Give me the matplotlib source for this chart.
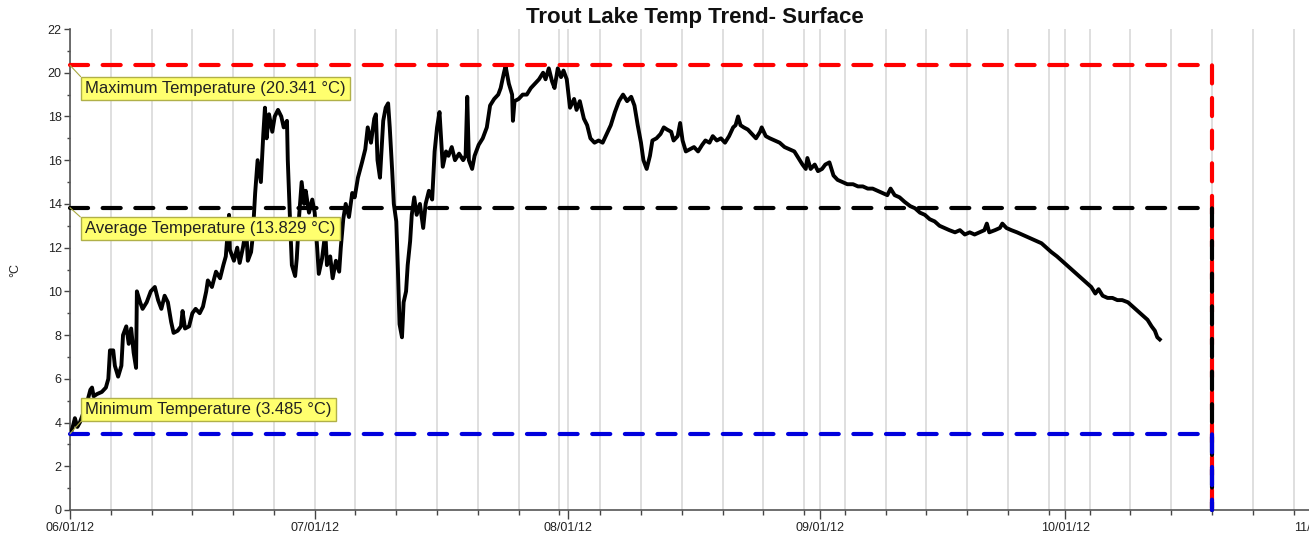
import pandas as pd
import matplotlib
matplotlib.use('Agg')
import matplotlib.pyplot as plt
import matplotlib.dates as mdates
from matplotlib.ticker import FixedLocator, MultipleLocator

plt.rcParams['font.family'] = ['Liberation Sans', 'DejaVu Sans']
plt.rcParams['lines.scale_dashes'] = False

start = pd.Timestamp('2012-06-01')
end = pd.Timestamp('2012-11-01')

# logger readings: days since 06/01/12 and surface temperature in °C
days = [
    0.1, 0.4, 0.6, 0.9, 1.2, 2.0, 2.5, 2.7, 2.9, 3.3,
    3.9, 4.4, 4.7, 4.9, 5.3, 5.5, 5.9, 6.3, 6.5, 6.9,
    7.2, 7.5, 7.8, 8.1, 8.2, 8.6, 8.9, 9.4, 9.9, 10.4,
    10.8, 11.2, 11.6, 12.0, 12.4, 12.7, 13.2, 13.6, 13.8, 14.1,
    14.6, 15.0, 15.4, 15.9, 16.3, 16.7, 16.9, 17.4, 17.9, 18.4,
    18.8, 19.1, 19.5, 19.6, 20.1, 20.5, 20.8, 21.2, 21.6, 21.8,
    22.2, 22.4, 22.7, 23.0, 23.4, 23.7, 23.9, 24.1, 24.4, 24.8,
    25.1, 25.5, 25.9, 26.2, 26.6, 26.7, 27.0, 27.2, 27.6, 27.8,
    28.1, 28.4, 28.7, 28.9, 29.3, 29.7, 30.0, 30.3, 30.5, 30.9,
    31.3, 31.5, 31.9, 32.2, 32.6, 33.0, 33.2, 33.5, 33.8, 34.2,
    34.6, 34.9, 35.3, 35.8, 36.2, 36.5, 36.9, 37.3, 37.5, 37.7,
    38.0, 38.4, 38.7, 39.0, 39.2, 39.5, 39.7, 40.0, 40.2, 40.4,
    40.7, 40.9, 41.2, 41.4, 41.7, 41.9, 42.2, 42.5, 42.9, 43.3,
    43.6, 44.0, 44.4, 44.7, 45.0, 45.3, 45.7, 46.1, 46.4, 46.8,
    47.2, 47.7, 48.2, 48.5, 48.7, 48.9, 49.3, 49.6, 50.1, 50.6,
    51.1, 51.5, 52.0, 52.5, 52.8, 53.2, 53.4, 53.8, 54.2, 54.3,
    54.5, 55.0, 55.5, 56.0, 56.5, 57.0, 57.5, 58.0, 58.3, 58.7,
    59.1, 59.4, 59.8, 60.2, 60.5, 60.9, 61.3, 61.8, 62.1, 62.5,
    63.0, 63.4, 63.8, 64.3, 64.8, 65.3, 65.8, 66.3, 66.8, 67.3,
    67.8, 68.3, 68.8, 69.2, 69.6, 70.0, 70.3, 70.7, 71.1, 71.4,
    71.9, 72.4, 72.8, 73.2, 73.7, 74.0, 74.5, 74.8, 75.1, 75.5,
    76.0, 76.5, 77.0, 77.5, 77.9, 78.4, 78.8, 79.3, 79.8, 80.3,
    80.8, 81.3, 81.6, 81.9, 82.2, 82.6, 83.1, 83.6, 84.1, 84.6,
    84.8, 85.3, 85.8, 86.4, 87.0, 87.6, 88.2, 88.8, 89.3, 89.8,
    90.2, 90.4, 90.8, 91.3, 91.7, 92.2, 92.6, 93.1, 93.6, 94.1,
    94.7, 95.3, 96.0, 96.6, 97.2, 97.8, 98.4, 99.0, 99.6, 100.2,
    100.6, 101.1, 101.7, 102.3, 103.0, 103.6, 104.2, 104.8, 105.4, 106.0,
    106.6, 107.2, 107.8, 108.5, 109.1, 109.7, 110.3, 110.9, 111.5, 112.1,
    112.4, 112.7, 113.4, 114.0, 114.3, 114.8, 115.4, 116.1, 116.7, 117.3,
    117.9, 118.5, 119.1, 119.7, 120.3, 121.0, 121.6, 122.2, 122.8, 123.4,
    124.0, 124.6, 125.2, 125.7, 126.1, 126.6, 127.2, 127.8, 128.4, 129.0,
    129.7, 130.3, 130.9, 131.5, 132.1, 132.6, 133.0, 133.3, 133.6,
]
temps = [
    3.5, 3.9, 4.2, 3.8, 4.0, 4.8, 5.5, 5.6, 5.2, 5.3,
    5.4, 5.6, 6.0, 7.3, 7.3, 6.6, 6.1, 6.6, 8.0, 8.4,
    7.6, 8.3, 7.2, 6.5, 10.0, 9.5, 9.2, 9.5, 10.0, 10.2,
    9.6, 9.2, 9.8, 9.5, 8.6, 8.1, 8.2, 8.4, 9.1, 8.3,
    8.4, 9.0, 9.2, 9.0, 9.3, 10.0, 10.5, 10.2, 10.9, 10.6,
    11.2, 11.6, 13.5, 11.9, 11.4, 12.0, 11.3, 12.0, 12.9, 11.4,
    11.8, 12.5, 14.5, 16.0, 15.0, 17.2, 18.4, 17.0, 18.1, 17.3,
    18.0, 18.3, 18.0, 17.5, 17.8, 16.0, 13.0, 11.2, 10.7, 11.5,
    13.5, 15.0, 14.0, 14.6, 13.6, 14.2, 13.6, 12.0, 10.8, 11.5,
    12.7, 11.2, 11.6, 10.6, 11.4, 10.9, 12.0, 13.3, 14.0, 13.4,
    14.5, 14.3, 15.2, 15.9, 16.5, 17.5, 16.8, 17.9, 18.1, 16.0,
    15.2, 17.8, 18.4, 18.6, 17.5, 15.5, 14.0, 13.2, 11.0, 8.5,
    7.9, 9.5, 10.0, 11.2, 12.3, 13.5, 14.3, 13.5, 14.0, 12.9,
    14.0, 14.6, 14.2, 16.4, 17.5, 18.2, 15.7, 16.4, 16.2, 16.6,
    16.0, 16.3, 16.0, 16.2, 18.9, 16.0, 15.6, 16.2, 16.7, 17.0,
    17.5, 18.5, 18.8, 19.0, 19.3, 20.0, 20.3, 19.5, 19.0, 17.8,
    18.7, 18.8, 19.0, 19.0, 19.3, 19.5, 19.7, 20.0, 19.7, 20.2,
    19.6, 19.3, 20.2, 19.8, 20.1, 19.7, 18.4, 18.8, 18.3, 18.7,
    17.9, 17.6, 17.0, 16.8, 16.9, 16.8, 17.2, 17.6, 18.2, 18.7,
    19.0, 18.7, 18.9, 18.5, 17.6, 16.8, 16.0, 15.6, 16.2, 16.9,
    17.0, 17.2, 17.5, 17.4, 17.3, 16.9, 17.1, 17.7, 16.9, 16.4,
    16.5, 16.6, 16.4, 16.7, 16.9, 16.8, 17.1, 16.9, 17.0, 16.8,
    17.1, 17.5, 17.6, 18.0, 17.6, 17.5, 17.4, 17.2, 17.0, 17.3,
    17.5, 17.1, 17.0, 16.9, 16.8, 16.6, 16.5, 16.4, 16.1, 15.8,
    15.6, 16.1, 15.6, 15.8, 15.5, 15.6, 15.8, 15.9, 15.3, 15.1,
    15.0, 14.9, 14.9, 14.8, 14.8, 14.7, 14.7, 14.6, 14.5, 14.4,
    14.7, 14.4, 14.3, 14.1, 13.9, 13.8, 13.6, 13.5, 13.3, 13.2,
    13.0, 12.9, 12.8, 12.7, 12.8, 12.6, 12.7, 12.6, 12.7, 12.8,
    13.1, 12.7, 12.8, 12.9, 13.1, 12.9, 12.8, 12.7, 12.6, 12.5,
    12.4, 12.3, 12.2, 12.0, 11.8, 11.6, 11.4, 11.2, 11.0, 10.8,
    10.6, 10.4, 10.2, 9.9, 10.1, 9.8, 9.7, 9.7, 9.6, 9.6,
    9.5, 9.3, 9.1, 8.9, 8.7, 8.4, 8.2, 7.9, 7.8,
]

max_temp = 20.341
avg_temp = 13.829
min_temp = 3.485
line_end_day = 140  # 10/19/12, where the reference lines turn down

times = start + pd.to_timedelta(days, unit='D')
line_end = start + pd.Timedelta(days=line_end_day)

fig = plt.figure(figsize=(13.09, 5.36), dpi=100)
ax = fig.add_axes([70 / 1309, 26 / 536, 1248 / 1309, 481 / 536])

ax.plot(times, temps, color='black', lw=2.8, zorder=3)

# max / average / min reference lines, each bending down to zero at the end
stats = [
    (max_temp, '#ff0000', 4),
    (avg_temp, '#000000', 5),
    (min_temp, '#0000dd', 6),
]
for value, color, z in stats:
    ax.plot([start, line_end, line_end], [value, value, 0], color=color, lw=3,
            dashes=(13, 10.5), dash_capstyle='round', zorder=z, clip_on=False)

box = dict(boxstyle='square,pad=0.25', fc='#ffff6e', ec='#b0b048', lw=1)
arrow = dict(arrowstyle='-', color='#a8a840', lw=0.8, shrinkA=0, shrinkB=0)

ax.annotate('Maximum Temperature (20.341 °C)', xy=(start, max_temp),
            xytext=(15, -16), textcoords='offset pixels', ha='left', va='top',
            fontsize=12, color='#222222', bbox=box,
            arrowprops=dict(arrow, relpos=(0, 1)), zorder=10, annotation_clip=False)
ax.annotate('Average Temperature (13.829 °C)', xy=(start, avg_temp),
            xytext=(15, -13.5), textcoords='offset pixels', ha='left', va='top',
            fontsize=12, color='#222222', bbox=box,
            arrowprops=dict(arrow, relpos=(0, 1)), zorder=10, annotation_clip=False)
ax.annotate('Minimum Temperature (3.485 °C)', xy=(start, min_temp),
            xytext=(15, 17), textcoords='offset pixels', ha='left', va='bottom',
            fontsize=12, color='#222222', bbox=box,
            arrowprops=dict(arrow, relpos=(0, 0)), zorder=10, annotation_clip=False)

ax.set_xlim(start, end)
ax.set_ylim(0, 22)

ax.xaxis.set_major_locator(mdates.MonthLocator())
ax.xaxis.set_major_formatter(mdates.DateFormatter('%m/%d/%y'))
five_days = [start + pd.Timedelta(days=5 * k) for k in range(31)]
ax.xaxis.set_minor_locator(FixedLocator(mdates.date2num(five_days)))
ax.yaxis.set_major_locator(MultipleLocator(2))
ax.yaxis.set_minor_locator(MultipleLocator(1))

ax.grid(True, which='both', axis='x', color='#d9d9d9', lw=1.2, zorder=0)
ax.set_axisbelow(True)

ax.tick_params(axis='x', which='major', length=6.5, width=1, pad=2,
               labelsize=9, colors='#444444', labelcolor='#222222')
ax.tick_params(axis='x', which='minor', length=3.5, width=1, colors='#444444')
ax.tick_params(axis='y', which='major', length=4, width=1, pad=2,
               labelsize=9, colors='#444444', labelcolor='#222222')
ax.tick_params(axis='y', which='minor', length=2.5, width=1, colors='#444444')

for side in ['top', 'right']:
    ax.spines[side].set_visible(False)
for side in ['left', 'bottom']:
    ax.spines[side].set_color('#555555')
    ax.spines[side].set_linewidth(1.2)

fig.text(694.5 / 1309, 1 - 18 / 536, 'Trout Lake Temp Trend- Surface',
         ha='center', va='center', fontsize=16, fontweight='bold', color='#111111')
fig.text(15 / 1309, 1 - 270 / 536, '°C', rotation=90, ha='center', va='center',
         fontsize=9, color='#222222')

fig.savefig('out.png', dpi=100)
